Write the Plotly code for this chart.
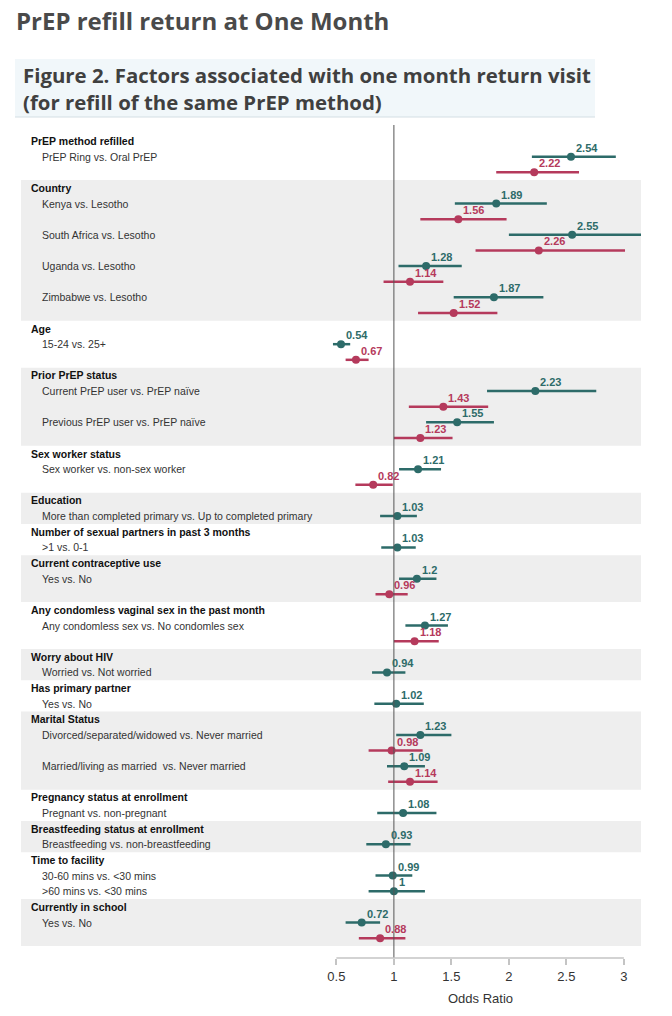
import plotly.graph_objects as go

# ---------------- data ----------------
group_names = [
    "PrEP method refilled", "Country", "Age", "Prior PrEP status",
    "Sex worker status", "Education", "Number of sexual partners in past 3 months",
    "Current contraceptive use", "Any condomless vaginal sex in the past month",
    "Worry about HIV", "Has primary partner", "Marital Status",
    "Pregnancy status at enrollment", "Breastfeeding status at enrollment",
    "Time to facility", "Currently in school",
]

row_group = [0, 1, 1, 1, 1, 2, 3, 3, 4, 5, 6, 7, 8, 9, 10, 11, 11, 12, 13, 14, 14, 15]

row_labels = [
    "PrEP Ring vs. Oral PrEP",
    "Kenya vs. Lesotho",
    "South Africa vs. Lesotho",
    "Uganda vs. Lesotho",
    "Zimbabwe vs. Lesotho",
    "15-24 vs. 25+",
    "Current PrEP user vs. PrEP naïve",
    "Previous PrEP user vs. PrEP naïve",
    "Sex worker vs. non-sex worker",
    "More than completed primary vs. Up to completed primary",
    ">1 vs. 0-1",
    "Yes vs. No",
    "Any condomless sex vs. No condomles sex",
    "Worried vs. Not worried",
    "Yes vs. No",
    "Divorced/separated/widowed vs. Never married",
    "Married/living as married  vs. Never married",
    "Pregnant vs. non-pregnant",
    "Breastfeeding vs. non-breastfeeding",
    "30-60 mins vs. <30 mins",
    ">60 mins vs. <30 mins",
    "Yes vs. No",
]

# teal series (all factors)
teal_or = [2.54, 1.89, 2.55, 1.28, 1.87, 0.54, 2.23, 1.55, 1.21, 1.03, 1.03, 1.2,
           1.27, 0.94, 1.02, 1.23, 1.09, 1.08, 0.93, 0.99, 1, 0.72]
teal_lo = [2.20, 1.53, 2.00, 1.04, 1.52, 0.47, 1.81, 1.28, 1.045, 0.88, 0.89, 1.045,
           1.10, 0.81, 0.83, 1.02, 0.94, 0.855, 0.76, 0.84, 0.78, 0.58]
teal_hi = [2.93, 2.33, 3.25, 1.59, 2.30, 0.62, 2.76, 1.87, 1.41, 1.20, 1.19, 1.37,
           1.47, 1.10, 1.26, 1.50, 1.27, 1.37, 1.145, 1.16, 1.27, 0.88]

# crimson series (selected factors)
red_or = [2.22, 1.56, 2.26, 1.14, 1.52, 0.67, 1.43, 1.23, 0.82, None, None, 0.96,
          1.18, None, None, 0.98, 1.14, None, None, None, None, 0.88]
red_lo = [1.89, 1.23, 1.71, 0.91, 1.21, 0.58, 1.13, 1.00, 0.665, None, None, 0.84,
          1.00, None, None, 0.78, 0.95, None, None, None, None, 0.695]
red_hi = [2.61, 1.98, 3.01, 1.43, 1.90, 0.78, 1.82, 1.51, 0.99, None, None, 1.12,
          1.39, None, None, 1.25, 1.38, None, None, None, None, 1.10]

x_ticks = [0.5, 1, 1.5, 2, 2.5, 3]
x_title = "Odds Ratio"
page_title = "PrEP refill return at One Month"
fig_title_lines = ["Figure 2. Factors associated with one month return visit",
                   "(for refill of the same PrEP method)"]

# ---------------- styles ----------------
TEAL = "#2d6b69"
RED = "#b53a5c"
BAND = "#eeeeee"
FONT = "Liberation Sans, Arial, sans-serif"
TFONT = "Open Sans, Lato, sans-serif"

W, H = 672, 1016
PLOT_L, PLOT_R, PLOT_T, PLOT_B = 21, 641, 127, 958   # pixel coords of plot area
PH = PLOT_B - PLOT_T
SLOT0, PITCH = 141, 15.63


def py(page_y):
    return (PLOT_B - page_y) / PH


def px(page_x):
    return (page_x - PLOT_L) / (PLOT_R - PLOT_L)


# ---------------- layout of rows (slots) ----------------
slot = 0
header_slot = {}
group_end = {}
teal_y, red_y = [], []
prev = None
for i, g in enumerate(row_group):
    if g != prev:
        header_slot[g] = slot
        slot += 1
        prev = g
    teal_y.append(slot)
    slot += 1
    if red_or[i] is not None:
        red_y.append(slot)
        slot += 1
    else:
        red_y.append(None)
    group_end[g] = slot - 1

fig = go.Figure()

fig.add_trace(go.Scatter(
    x=teal_or, y=teal_y, mode="markers", name="Teal estimate",
    marker=dict(color=TEAL, size=8),
    error_x=dict(type="data", symmetric=False,
                 array=[h - o for h, o in zip(teal_hi, teal_or)],
                 arrayminus=[o - l for o, l in zip(teal_or, teal_lo)],
                 color=TEAL, thickness=2.5, width=0),
    showlegend=False,
))

ri = [i for i, v in enumerate(red_or) if v is not None]
fig.add_trace(go.Scatter(
    x=[red_or[i] for i in ri], y=[red_y[i] for i in ri], mode="markers",
    name="Crimson estimate",
    marker=dict(color=RED, size=8),
    error_x=dict(type="data", symmetric=False,
                 array=[red_hi[i] - red_or[i] for i in ri],
                 arrayminus=[red_or[i] - red_lo[i] for i in ri],
                 color=RED, thickness=2.5, width=0),
    showlegend=False,
))

shapes = []
annotations = []

# value labels (above-right of each point)
for i, v in enumerate(teal_or):
    annotations.append(dict(xref="x", yref="y", x=v, y=teal_y[i], text=f"<b>{v:g}</b>",
                            showarrow=False, xanchor="left", yanchor="middle",
                            xshift=3, yshift=9,
                            font=dict(family=FONT, size=11, color=TEAL)))
for i in ri:
    annotations.append(dict(xref="x", yref="y", x=red_or[i], y=red_y[i],
                            text=f"<b>{red_or[i]:g}</b>",
                            showarrow=False, xanchor="left", yanchor="middle",
                            xshift=3, yshift=9,
                            font=dict(family=FONT, size=11, color=RED)))

for g, name in enumerate(group_names):
    if g % 2 == 1:
        shapes.append(dict(type="rect", xref="paper", yref="y", x0=0, x1=1,
                           y0=header_slot[g] - 0.5, y1=group_end[g] + 0.5,
                           fillcolor=BAND, line_width=0, layer="below"))
    annotations.append(dict(xref="paper", yref="y", x=px(29), y=header_slot[g],
                            text=f"<b>{name}</b>", showarrow=False, xanchor="left",
                            yanchor="middle", font=dict(family=FONT, size=10.5, color="#111111")))
for i, lab in enumerate(row_labels):
    annotations.append(dict(xref="paper", yref="y", x=px(40), y=teal_y[i],
                            text=lab.replace("  ", "&nbsp; "), showarrow=False, xanchor="left",
                            yanchor="middle", font=dict(family=FONT, size=10.5, color="#333333")))

# reference line at OR = 1
shapes.append(dict(type="line", xref="x", yref="paper", x0=1, x1=1, y0=0, y1=py(125),
                   line=dict(color="#555555", width=1)))
# axis base line spanning tick range
shapes.append(dict(type="line", xref="x", yref="paper", x0=x_ticks[0], x1=x_ticks[-1],
                   y0=0, y1=0, line=dict(color="#c4c4c4", width=1.5)))

# caption box
shapes.append(dict(type="rect", xref="paper", yref="paper", x0=px(15), x1=px(595),
                   y0=py(117), y1=py(59), fillcolor="#f1f7fa", line_width=0, layer="below"))
shapes.append(dict(type="line", xref="paper", yref="paper", x0=px(15), x1=px(595),
                   y0=py(117), y1=py(117), line=dict(color="#d3dee4", width=1)))

for k, (line, ypos) in enumerate(zip(fig_title_lines, [75, 102])):
    annotations.append(dict(xref="paper", yref="paper", x=px(21), y=py(ypos),
                            text=f"<b>{line}</b>", showarrow=False, xanchor="left",
                            yanchor="middle", font=dict(family=TFONT, size=20.4, color="#404040")))

annotations.append(dict(xref="x", yref="paper", x=(x_ticks[0] + x_ticks[-1]) / 2, y=py(998),
                        text=x_title, showarrow=False, xanchor="center", yanchor="middle",
                        font=dict(family=FONT, size=13, color="#333333")))

fig.update_layout(
    width=W, height=H,
    margin=dict(l=PLOT_L, r=W - PLOT_R, t=PLOT_T, b=H - PLOT_B),
    paper_bgcolor="white", plot_bgcolor="white",
    title=dict(text=f"<b>{page_title}</b>", x=16 / W, xanchor="left", xref="container",
               y=1 - 22 / H, yanchor="middle", yref="container",
               font=dict(family=TFONT, size=24, color="#4a4a4a")),
    xaxis=dict(range=[-2.243, 3.149], tickvals=x_ticks, ticktext=[f"{t:g}" for t in x_ticks],
               showgrid=False, zeroline=False, showline=False, ticks="outside", ticklen=6,
               tickcolor="#c4c4c4", tickwidth=1.5,
               tickfont=dict(family=FONT, size=13, color="#333333")),
    yaxis=dict(range=[(PLOT_B - SLOT0) / PITCH, -(SLOT0 - PLOT_T) / PITCH], showgrid=False,
               zeroline=False, showticklabels=False, showline=False),
    shapes=shapes, annotations=annotations,
    font=dict(family=FONT),
)

# remove the browser's default body margin so the figure sits at the page origin
fig.write_html("out.html", config={"displayModeBar": False},
               post_script="document.body.style.margin='0';")
